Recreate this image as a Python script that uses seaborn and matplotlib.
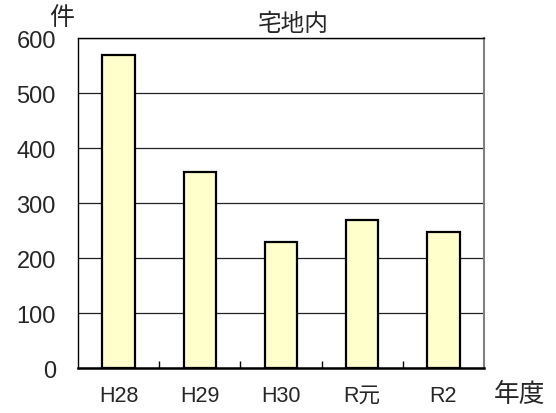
import matplotlib
matplotlib.use("Agg")
import matplotlib.pyplot as plt
import seaborn as sns
import pandas as pd

# Fiscal years and counts (件) of incidents inside residential lots
years = ["H28", "H29", "H30", "R元", "R2"]
counts = [570, 357, 230, 270, 248]
y_ticks = [0, 100, 200, 300, 400, 500, 600]

sns.set_theme(style="white")
plt.rcParams["font.family"] = ["Liberation Sans", "Noto Sans CJK JP", "DejaVu Sans"]

df = pd.DataFrame({"year": years, "count": counts})

fig = plt.figure(figsize=(5.56, 4.14), dpi=100)
ax = fig.add_axes([0.1403, 0.108, 0.7302, 0.7966])

sns.barplot(data=df, x="year", y="count", color="#FFFFCC", saturation=1,
            edgecolor="black", linewidth=1.6, width=0.4, ax=ax, zorder=3)

ax.set_xlim(-0.5, len(years) - 0.5)
ax.set_ylim(0, 600)
ax.set_yticks(y_ticks)
ax.set_yticklabels([str(v) for v in y_ticks], fontsize=17)
ax.yaxis.grid(True, color="#222222", linewidth=0.9, zorder=0)
ax.set_axisbelow(True)

ax.tick_params(axis="x", length=0, pad=12, labelsize=15.5)
ax.tick_params(axis="y", length=0, pad=16)
ax.set_xticks(range(len(years)), minor=False)
ax.set_xticks([i + 0.5 for i in range(len(years) - 1)], minor=True)
ax.tick_params(axis="x", which="minor", direction="in", length=5,
               width=1, color="black", bottom=True)

ax.set_xlabel("")
ax.set_ylabel("")

for side in ["left", "top"]:
    ax.spines[side].set_color("black")
    ax.spines[side].set_linewidth(1.0)
ax.spines["bottom"].set_color("black")
ax.spines["bottom"].set_linewidth(1.8)
ax.spines["right"].set_color("#808080")
ax.spines["right"].set_linewidth(1.5)

ax.text(0.53, 1.012, "宅地内", transform=ax.transAxes, ha="center",
        va="bottom", fontsize=17, family=["Noto Sans CJK JP"])
fig.text(0.1115, 0.957, "件", ha="center", va="center", fontsize=18,
         family=["Noto Sans CJK JP"])
fig.text(0.935, 0.046, "年度", ha="center", va="center", fontsize=18.5,
         family=["Noto Sans CJK JP"])

fig.savefig("out.png", dpi=100)
